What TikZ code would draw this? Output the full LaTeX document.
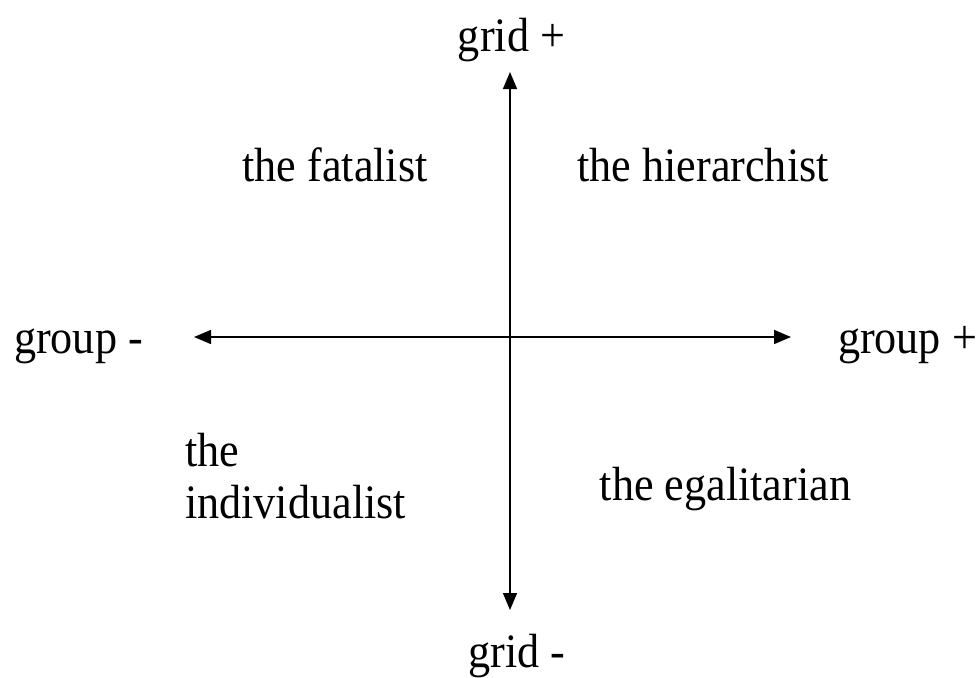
\documentclass[tikz,border=0pt]{standalone}
\usepackage{fontspec}
\setmainfont{Liberation Serif}[FakeStretch=0.92]
\usetikzlibrary{arrows.meta}
\begin{document}
\begin{tikzpicture}[x=1pt,y=-1pt,
  lbl/.style={inner sep=0pt,anchor=base,font=\fontsize{48}{54}\selectfont},
  axis/.style={line width=1.5pt,{Triangle[length=17pt,width=14pt]}-{Triangle[length=17pt,width=14pt]}}]
\useasboundingbox (0,0) rectangle (979,677);
\coordinate (top) at (510,72);
\coordinate (bot) at (510,610);
\coordinate (lft) at (194,337);
\coordinate (rgt) at (791,337);
\draw[axis] (bot) -- (top);
\draw[axis] (lft) -- (rgt);
\node[lbl] (gridp) at (511.5,52) {grid +};
\node[lbl] (gridm) at (517,667) {grid -};
\node[lbl] (groupm) at (78.5,353) {group -};
\node[lbl] (groupp) at (907.5,353) {group +};
\node[lbl] (fat) at (335,181) {the fatalist};
\node[lbl] (hier) at (703,181) {the hierarchist};
\node[lbl,anchor=base west] (ind1) at (185,466) {the};
\node[lbl,anchor=base west] (ind2) at (185,518) {individualist};
\node[lbl] (ega) at (725.5,500) {the egalitarian};
\end{tikzpicture}
\end{document}
